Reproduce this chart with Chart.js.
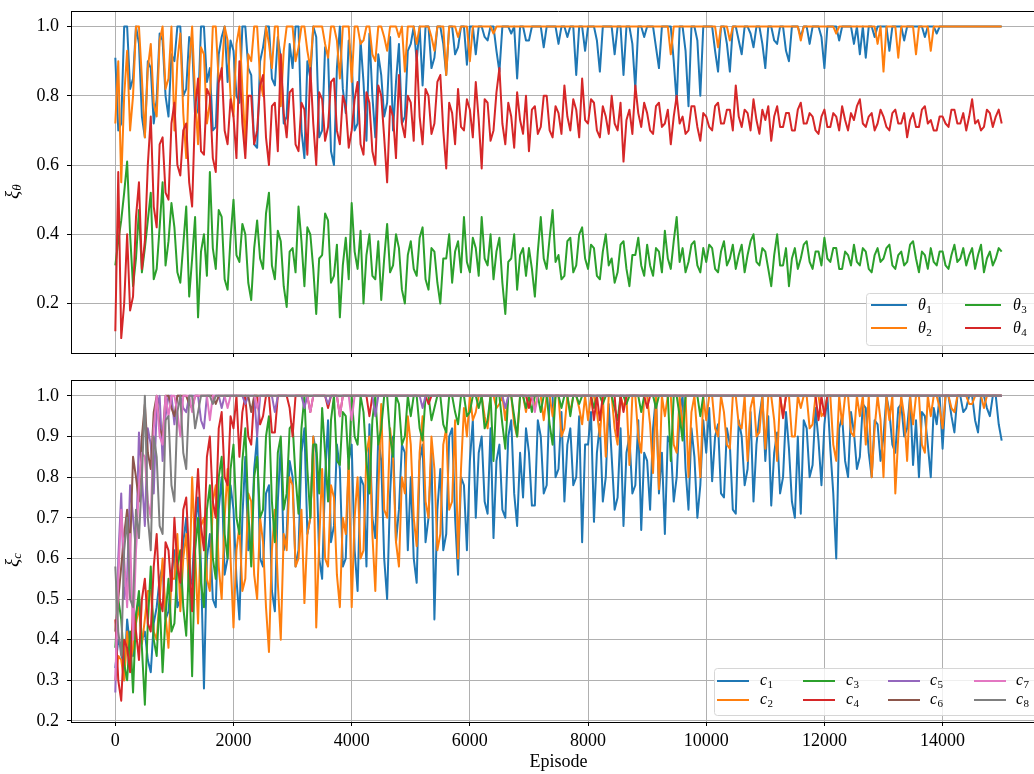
<!DOCTYPE html>
<html><head><meta charset="utf-8">
<script src="https://cdn.jsdelivr.net/npm/chart.js@4.4.1/dist/chart.umd.min.js"></script>
<style>
html,body{margin:0;padding:0;background:#fff;overflow:hidden;width:1034px;height:774px;}
#c1{position:absolute;left:0;top:0;width:1046px;height:370px;}
#c2{position:absolute;left:0;top:370px;width:1046px;height:404px;}
</style></head><body>
<canvas id="c1" width="1046" height="370"></canvas>
<canvas id="c2" width="1046" height="404"></canvas>
<script>
// ---------------- DATA (one sample every 50 episodes, 0..15000; one row = 1000 episodes) ----------------
const EPISODE_STEP = 50;
const X_TICKS = [0, 2000, 4000, 6000, 8000, 10000, 12000, 14000];
const TOP_Y_TICKS = [0.2, 0.4, 0.6, 0.8, 1.0];
const BOTTOM_Y_TICKS = [0.2, 0.3, 0.4, 0.5, 0.6, 0.7, 0.8, 0.9, 1.0];

const theta1 = [
[0.91,0.70,0.72,1,1,0.82,0.85,1,0.95,0.74,0.68,0.90,0.88,0.72,0.79,0.98,0.96,0.80,0.74,0.92],
[0.90,1,1,0.80,0.82,0.97,0.95,0.74,0.76,1,1,0.84,0.88,0.70,0.71,0.92,0.97,1,0.84,0.96],
[0.93,0.80,0.78,1,1,0.88,0.86,0.66,0.65,0.90,0.94,1,1,0.85,0.83,0.97,0.91,0.72,0.74,0.95],
[0.88,1,1,0.70,0.62,0.90,0.85,1,0.97,0.68,0.70,0.94,0.92,0.64,0.60,0.88,1,0.82,0.75,0.96],
[0.90,0.70,0.72,0.96,0.84,0.67,0.98,0.80,0.68,0.92,0.86,0.74,0.78,0.97,0.70,0.84,0.95,0.72,0.74,0.93],
[0.95,1,0.90,1,0.83,1,1,0.88,0.91,1,1,0.95,0.86,1,1,0.92,0.94,1,1,0.89],
[1,1,0.92,1,1,0.97,0.96,1,1,0.93,0.87,1,1,1,0.98,1,0.85,1,1,0.96],
[0.96,1,1,1,1,0.94,1,1,1,1,0.95,1,1,0.97,1,1,0.86,1,1,0.93],
[1,1,1,0.96,0.87,1,1,1,1,0.92,1,1,0.86,1,1,0.95,0.82,1,1,0.97],
[1,1,1,0.94,0.88,1,1,1,1,0.90,0.78,1,1,0.93,0.77,1,1,0.96,0.80,1],
[1,1,1,0.93,0.87,1,1,0.95,0.87,1,1,0.96,0.92,1,1,0.98,0.94,1,1,0.95],
[0.88,1,1,0.96,0.95,1,1,0.93,0.90,1,1,1,0.97,1,1,0.95,1,1,1,0.97],
[0.88,1,1,1,1,0.96,1,1,1,1,0.95,1,0.92,1,0.91,1,1,0.97,1,1],
[1,1,0.93,1,1,1,1,0.96,1,1,1,1,1,1,0.97,1,1,1,0.98,1],
[1,1,1,1,1,1,1,1,1,1,1,1,1,1,1,1,1,1,1,1],
[1]].flat();
const theta2 = [
[0.72,0.90,0.55,0.80,0.93,0.70,0.80,1,1,0.85,0.68,0.88,0.95,0.78,0.74,0.96,1,0.82,0.85,1],
[0.70,0.90,0.98,0.75,0.62,0.88,1,0.80,0.66,0.94,0.92,0.72,0.78,1,1,0.84,0.86,1,0.96,0.80],
[0.74,0.95,1,0.82,0.66,0.92,0.90,1,1,0.85,0.80,1,0.95,0.88,1,1,0.77,0.93,1,1],
[1,0.90,0.94,1,1,0.93,0.88,1,1,1,1,0.95,0.91,1,1,0.96,0.85,1,1,1],
[0.84,1,1,0.95,0.96,1,1,0.92,0.90,1,1,0.97,0.93,1,1,1,0.97,1,0.87,1],
[1,1,0.95,1,1,1,1,0.97,0.93,1,1,1,0.86,1,1,1,0.97,1,1,1],
[0.90,1,1,1,1,1,1,1,0.98,1,1,1,1,1,1,1,1,1,1,1],
[1,1,1,1,1,1,1,1,1,1,1,1,1,1,1,1,1,1,1,1],
[1,1,1,1,1,1,1,1,1,1,1,1,1,1,1,1,1,1,1,1],
[1,1,1,1,1,1,1,1,0.92,1,1,1,1,1,1,1,1,1,1,1],
[1,1,1,1,0.94,1,1,1,0.96,1,1,1,1,1,1,1,1,1,1,1],
[1,1,1,1,1,1,1,1,1,1,1,1,0.96,1,1,1,1,1,1,1],
[1,1,1,1,0.98,1,1,1,1,1,1,1,1,1,1,1,1,1,0.95,1],
[0.87,1,1,1,1,0.91,1,1,1,1,1,0.92,1,1,1,1,0.93,1,1,1],
[1,1,1,1,1,1,1,1,1,1,1,1,1,1,1,1,1,1,1,1],
[1]].flat();
const theta3 = [
[0.31,0.38,0.44,0.52,0.61,0.40,0.25,0.33,0.47,0.29,0.36,0.44,0.52,0.27,0.30,0.42,0.55,0.31,0.38,0.49],
[0.42,0.29,0.26,0.37,0.48,0.22,0.33,0.45,0.16,0.35,0.40,0.28,0.58,0.36,0.30,0.47,0.45,0.27,0.24,0.39],
[0.50,0.34,0.32,0.43,0.40,0.26,0.21,0.36,0.44,0.33,0.30,0.46,0.52,0.31,0.27,0.41,0.38,0.25,0.19,0.35],
[0.36,0.29,0.48,0.38,0.25,0.42,0.40,0.30,0.17,0.33,0.34,0.46,0.44,0.26,0.28,0.37,0.16,0.31,0.39,0.27],
[0.49,0.35,0.30,0.41,0.20,0.34,0.40,0.28,0.27,0.38,0.21,0.33,0.43,0.29,0.31,0.40,0.36,0.24,0.20,0.34],
[0.38,0.30,0.28,0.39,0.42,0.27,0.24,0.36,0.35,0.26,0.20,0.33,0.33,0.40,0.26,0.35,0.38,0.29,0.45,0.32],
[0.29,0.39,0.36,0.28,0.45,0.33,0.31,0.40,0.27,0.35,0.39,0.26,0.17,0.32,0.33,0.40,0.24,0.34,0.36,0.28],
[0.36,0.30,0.22,0.35,0.45,0.33,0.30,0.39,0.47,0.32,0.34,0.27,0.28,0.38,0.39,0.29,0.31,0.40,0.42,0.33],
[0.30,0.37,0.36,0.28,0.27,0.35,0.40,0.31,0.33,0.26,0.29,0.37,0.38,0.30,0.25,0.34,0.34,0.39,0.31,0.28],
[0.37,0.31,0.28,0.36,0.35,0.29,0.41,0.33,0.30,0.38,0.45,0.32,0.36,0.29,0.32,0.37,0.38,0.31,0.29,0.36],
[0.32,0.37,0.36,0.30,0.29,0.35,0.38,0.31,0.33,0.37,0.30,0.34,0.37,0.29,0.34,0.38,0.40,0.32,0.31,0.36],
[0.35,0.30,0.25,0.34,0.40,0.31,0.31,0.36,0.25,0.33,0.36,0.30,0.33,0.37,0.38,0.32,0.30,0.35,0.35,0.31],
[0.39,0.33,0.32,0.36,0.36,0.30,0.30,0.35,0.34,0.31,0.37,0.32,0.31,0.36,0.35,0.30,0.29,0.34,0.36,0.32],
[0.33,0.36,0.37,0.31,0.30,0.34,0.35,0.31,0.32,0.37,0.38,0.33,0.29,0.35,0.34,0.30,0.36,0.32,0.31,0.35],
[0.35,0.31,0.30,0.34,0.37,0.32,0.33,0.36,0.31,0.34,0.36,0.30,0.34,0.37,0.29,0.33,0.35,0.31,0.33,0.36],
[0.35]].flat();
const theta4 = [
[0.12,0.58,0.10,0.20,0.40,0.18,0.22,0.45,0.55,0.30,0.38,0.60,0.74,0.48,0.42,0.66,0.68,0.52,0.50,0.72],
[0.78,0.60,0.57,0.70,0.72,0.55,0.48,0.76,0.85,0.64,0.63,0.82,0.80,0.62,0.58,0.84,0.88,0.70,0.66,0.79],
[0.74,0.62,0.90,0.72,0.62,0.80,0.80,0.66,0.70,0.83,0.86,0.68,0.60,0.77,0.78,0.64,0.92,0.75,0.68,0.81],
[0.82,0.66,0.64,0.78,0.76,0.63,0.88,0.72,0.60,0.81,0.79,0.67,0.71,0.84,0.85,0.70,0.66,0.80,0.77,0.65],
[0.70,0.79,0.84,0.66,0.63,0.81,0.78,0.64,0.60,0.83,0.80,0.68,0.55,0.77,0.74,0.62,0.86,0.72,0.68,0.80],
[0.78,0.67,0.93,0.74,0.66,0.82,0.80,0.69,0.72,0.84,0.86,0.70,0.59,0.78,0.75,0.66,0.82,0.71,0.70,0.79],
[0.76,0.68,0.84,0.73,0.59,0.79,0.78,0.67,0.70,0.81,0.88,0.72,0.66,0.78,0.74,0.65,0.81,0.73,0.69,0.80],
[0.64,0.76,0.77,0.69,0.71,0.80,0.80,0.70,0.68,0.77,0.75,0.69,0.83,0.74,0.70,0.79,0.76,0.68,0.85,0.73],
[0.72,0.79,0.78,0.70,0.68,0.77,0.74,0.69,0.80,0.72,0.70,0.78,0.61,0.73,0.76,0.69,0.83,0.75,0.71,0.78],
[0.75,0.70,0.69,0.77,0.78,0.71,0.72,0.76,0.66,0.74,0.80,0.72,0.74,0.69,0.70,0.77,0.77,0.71,0.67,0.75],
[0.74,0.71,0.70,0.77,0.78,0.72,0.72,0.76,0.76,0.70,0.83,0.74,0.71,0.76,0.75,0.70,0.79,0.73,0.69,0.76],
[0.73,0.77,0.67,0.74,0.77,0.71,0.71,0.75,0.75,0.70,0.70,0.76,0.78,0.72,0.72,0.75,0.74,0.70,0.69,0.74],
[0.76,0.71,0.71,0.75,0.74,0.70,0.77,0.73,0.70,0.75,0.73,0.77,0.79,0.72,0.71,0.74,0.75,0.70,0.72,0.76],
[0.74,0.71,0.70,0.75,0.76,0.72,0.72,0.75,0.68,0.73,0.75,0.71,0.71,0.76,0.77,0.72,0.73,0.70,0.70,0.74],
[0.74,0.72,0.71,0.76,0.76,0.72,0.72,0.75,0.70,0.74,0.79,0.72,0.73,0.70,0.71,0.76,0.75,0.71,0.74,0.76],
[0.72]].flat();

const c1 = [
[0.33,0.40,0.38,0.30,0.45,0.38,0.36,0.46,0.50,0.40,0.42,0.35,0.32,0.44,0.48,0.55,0.58,0.45,0.47,0.56],
[0.62,0.48,0.50,0.64,0.70,0.52,0.55,0.68,0.75,0.58,0.28,0.60,0.66,0.50,0.48,0.72,0.80,0.56,0.60,0.78],
[0.72,0.55,0.45,0.70,0.85,0.62,0.64,0.82,0.90,0.60,0.58,0.76,0.78,0.52,0.47,0.74,0.88,0.62,0.66,0.84],
[0.80,0.58,0.62,0.86,0.92,0.66,0.70,0.90,0.86,0.60,0.55,0.80,0.94,0.64,0.68,0.88,0.82,0.58,0.60,0.84],
[0.88,0.62,0.52,0.80,0.78,0.58,0.93,0.70,0.65,0.90,0.84,0.60,0.50,0.76,0.90,0.64,0.72,0.88,0.86,0.62],
[0.80,0.60,0.54,0.84,0.88,0.64,0.70,0.86,0.45,0.72,0.82,0.62,0.66,0.90,0.92,0.70,0.56,0.80,0.78,0.62],
[0.84,0.94,0.70,0.86,0.90,0.74,0.71,0.92,0.65,0.84,0.88,0.72,0.70,0.90,0.94,0.76,0.68,0.86,0.75,0.92],
[0.86,0.73,0.73,0.94,0.90,0.76,0.78,1,1,0.80,0.82,0.96,0.74,0.88,0.92,0.78,0.80,0.95,0.64,0.88],
[0.88,0.96,0.69,0.86,0.93,0.74,0.80,0.98,0.85,0.72,0.75,0.92,0.68,0.86,0.90,0.76,0.78,0.94,0.67,0.86],
[0.84,0.72,0.92,1,0.76,0.86,0.66,0.90,0.88,0.74,0.80,0.96,1,0.82,0.72,0.92,0.85,0.70,0.78,0.94],
[0.86,0.97,0.79,0.90,0.93,0.76,0.75,0.92,0.88,0.72,0.71,0.94,0.90,0.78,0.82,0.96,0.74,0.88,0.95,1],
[0.84,0.95,0.73,0.86,0.91,0.76,0.80,0.96,0.87,0.74,0.70,0.90,0.71,0.94,0.92,0.80,0.83,0.97,0.89,0.78],
[0.93,1,0.87,0.76,0.60,0.92,0.95,0.84,0.80,0.96,0.91,0.82,0.85,0.98,0.97,0.86,0.80,0.94,0.93,0.84],
[0.90,1,0.96,0.88,0.86,0.97,0.98,0.90,0.92,1,0.83,0.94,0.80,0.96,0.95,0.88,0.80,0.97,0.93,1],
[0.87,1,1,0.95,0.91,1,1,0.96,0.97,1,1,0.94,0.91,1,1,0.97,0.95,1,1,0.93],
[0.89]].flat();
const c2 = [
[0.30,0.36,0.35,0.30,0.42,0.34,0.38,0.44,0.48,0.39,0.45,0.52,0.52,0.42,0.40,0.50,0.60,0.46,0.38,0.55],
[0.55,0.66,0.47,0.60,0.66,0.52,0.80,0.62,0.44,0.68,0.70,0.55,0.52,0.74,0.78,0.58,0.50,0.70,0.82,0.60],
[0.43,0.62,0.68,0.52,0.55,0.76,0.74,0.56,0.50,0.70,0.64,0.48,0.37,0.62,0.72,0.54,0.40,0.66,0.62,0.80],
[0.78,0.58,0.60,0.72,0.49,0.66,0.70,0.90,0.43,0.64,0.82,0.60,0.58,0.78,0.75,0.56,0.48,0.70,0.66,0.84],
[0.48,0.70,0.80,0.60,0.62,0.86,0.90,0.66,0.52,0.76,0.98,0.72,0.70,0.92,0.85,0.64,0.58,0.80,0.76,0.95],
[0.88,0.70,0.63,0.86,0.95,0.74,0.70,0.90,0.82,0.62,0.66,0.88,0.92,0.72,0.74,0.94,0.60,0.82,0.97,0.90],
[1,0.94,0.96,1,1,0.95,0.92,1,1,0.97,0.98,1,0.94,1,1,0.93,0.90,1,1,0.96],
[1,1,0.97,1,1,0.94,1,1,0.95,1,1,0.90,0.92,1,0.96,1,1,0.97,0.93,1],
[0.94,1,1,0.96,0.90,1,0.85,1,1,0.92,0.88,1,0.97,1,0.83,1,1,0.90,0.86,1],
[1,0.93,0.81,1,0.77,1,0.95,1,1,0.88,0.86,1,0.92,1,0.80,0.96,1,0.90,0.80,1],
[0.94,1,1,0.92,0.90,1,0.96,0.88,0.87,1,1,0.93,0.92,1,0.84,0.97,1,0.90,0.91,1],
[0.87,1,1,0.94,0.84,1,0.95,1,1,0.90,0.90,1,0.97,1,1,0.92,0.93,1,1,0.95],
[0.96,1,1,0.88,0.84,1,0.93,1,1,0.91,0.90,1,0.95,1,0.88,1,0.80,0.92,1,0.94],
[0.80,1,0.94,1,0.76,0.90,1,0.95,0.84,1,0.93,1,1,0.88,0.86,1,0.95,1,1,0.97],
[0.92,1,1,0.97,0.96,1,1,1,1,0.98,0.98,1,1,1,0.97,1,1,1,1,1],
[1]].flat();
const c3 = [
[0.38,0.50,0.45,0.34,0.30,0.42,0.27,0.46,0.52,0.38,0.24,0.44,0.58,0.40,0.36,0.50,0.32,0.46,0.55,0.42],
[0.44,0.58,0.62,0.48,0.41,0.60,0.31,0.62,0.70,0.54,0.48,0.72,0.78,0.60,0.55,0.80,0.85,0.66,0.60,0.82],
[0.88,0.70,0.66,0.84,0.92,0.72,0.58,0.80,0.85,0.70,0.72,0.90,0.95,0.74,0.64,0.86,0.90,0.72,0.76,0.92],
[0.93,0.80,0.71,0.92,1,0.82,0.70,0.88,0.88,0.76,0.97,0.86,0.74,0.94,1,0.84,0.83,0.96,0.95,0.82],
[1,0.90,0.88,1,0.96,0.84,0.76,0.94,1,0.88,0.92,1,1,0.90,0.85,1,0.98,0.88,0.90,1],
[0.95,1,1,0.92,0.89,1,1,0.94,0.97,1,1,0.93,0.91,1,1,0.96,0.93,1,1,0.95],
[0.96,1,1,0.97,1,0.92,0.94,1,0.84,1,1,0.93,0.87,1,1,0.95,0.90,1,1,0.97],
[1,0.96,1,1,0.96,1,1,0.93,0.88,1,1,0.97,1,1,0.95,1,1,0.98,1,1],
[1,1,0.97,1,1,0.98,1,1,1,0.97,0.94,1,1,0.98,1,1,1,1,0.96,1],
[1,1,1,0.97,1,1,1,1,0.84,1,1,0.95,0.89,1,1,1,1,1,0.95,1],
[1,1,1,1,1,1,1,1,1,1,1,1,1,1,1,1,1,1,1,1],
[1,1,1,1,1,1,1,1,1,1,1,1,1,1,1,1,1,1,1,1],
[1,1,1,1,1,1,1,1,1,1,1,1,1,1,1,1,1,1,1,1],
[1,1,1,1,1,1,1,1,1,1,1,1,1,1,1,1,1,1,1,1],
[1,1,1,1,1,1,1,1,1,1,1,1,1,1,1,1,1,1,1,1],
[1]].flat();
const c4 = [
[0.45,0.30,0.25,0.40,0.38,0.32,0.48,0.42,0.35,0.50,0.55,0.44,0.42,0.58,0.66,0.50,0.47,0.64,0.62,0.52],
[0.70,0.58,0.54,0.72,0.75,0.60,0.47,0.70,0.82,0.68,0.62,0.85,0.90,0.74,0.70,0.92,0.96,0.80,0.78,0.95],
[0.92,1,0.85,0.96,1,0.90,0.88,1,1,0.93,0.95,1,1,0.91,0.91,1,1,1,1,0.97],
[0.90,1,1,1,1,1,0.96,1,1,1,1,1,0.97,1,1,1,0.95,1,1,1],
[1,1,1,1,1,1,0.95,1,1,1,1,1,1,1,1,1,1,1,1,1],
[1,1,1,1,1,1,0.98,1,1,1,1,1,1,1,1,1,1,1,1,1],
[1,1,1,1,1,1,1,1,1,1,1,1,1,1,1,1,1,1,1,1],
[0.97,1,1,1,1,1,1,1,1,1,1,1,1,1,1,1,1,1,1,1],
[1,1,0.94,1,0.94,1,1,1,1,1,0.90,1,0.96,1,1,1,1,1,1,1],
[0.97,1,1,1,1,1,1,1,1,1,1,1,1,1,1,1,1,1,1,1],
[1,1,1,1,1,1,1,1,1,1,1,1,1,1,1,1,1,1,1,1],
[1,1,1,1,1,1,0.945,1,1,1,1,1,1,1,1,1,1,1,0.94,1],
[0.95,1,1,1,1,1,1,1,1,1,1,1,1,1,1,1,1,1,1,1],
[1,1,1,1,1,1,1,1,1,1,1,1,1,1,1,1,1,1,1,1],
[1,1,1,1,1,1,1,1,1,1,1,1,1,1,1,1,1,1,1,1],
[1]].flat();
const c5 = [
[0.27,0.60,0.76,0.50,0.55,0.78,0.70,0.62,0.91,0.80,0.68,0.92,0.88,0.76,0.97,1,0.84,0.95,1,1],
[0.93,1,1,0.97,0.96,1,1,1,1,0.94,0.92,1,1,1,1,1,0.97,1,1,1],
[1,1,1,1,0.98,1,1,1,0.90,1,1,1,1,1,0.96,1,1,1,1,1],
[1,1,1,1,0.97,1,1,1,1,1,1,1,0.98,1,1,1,1,1,1,1],
[1,1,1,1,1,1,1,1,0.95,1,1,1,1,1,1,1,1,1,1,1],
[1,1,1,1,0.97,1,1,1,1,1,1,1,1,1,1,1,1,1,1,1],
[1,1,1,1,1,1,1,1,1,1,1,1,0.97,1,1,1,1,1,1,1],
[1,1,1,1,1,1,1,1,1,1,1,1,1,1,1,1,1,1,1,1],
[1,1,1,1,1,1,1,1,1,1,1,1,1,1,1,1,1,1,1,1],
[1,1,1,1,1,1,1,1,1,1,1,1,1,1,1,1,1,1,1,1],
[1,1,1,1,1,1,1,1,1,1,1,1,1,1,1,1,1,1,1,1],
[1,1,1,1,1,1,1,1,1,1,1,1,1,1,1,1,1,1,1,1],
[1,1,1,1,1,1,1,1,1,1,1,1,1,1,1,1,1,1,1,1],
[1,1,1,1,1,1,1,1,1,1,1,1,1,1,1,1,1,1,1,1],
[1,1,1,1,1,1,1,1,1,1,1,1,1,1,1,1,1,1,1,1],
[1]].flat();
const c6 = [
[0.42,0.50,0.58,0.66,0.72,0.62,0.85,0.80,0.74,0.90,0.98,0.86,0.82,0.96,1,0.92,0.90,1,1,0.97],
[0.95,1,1,1,1,0.98,0.97,1,1,1,1,1,1,1,0.98,1,1,1,1,1],
[1,1,1,1,1,1,0.96,1,1,1,1,1,1,1,1,1,1,1,1,1],
[1,1,1,1,1,1,1,1,1,1,1,1,1,1,1,1,1,1,1,1],
[1,1,1,1,1,1,1,1,1,1,1,1,1,1,1,1,1,1,1,1],
[1,1,1,1,1,1,1,1,1,1,1,1,1,1,1,1,1,1,1,1],
[1,1,1,1,1,1,1,1,1,1,1,1,1,1,1,1,1,1,1,1],
[1,1,1,1,1,1,1,1,1,1,1,1,1,1,1,1,1,1,1,1],
[1,1,1,1,1,1,1,1,1,1,1,1,1,1,1,1,1,1,1,1],
[1,1,1,1,1,1,1,1,1,1,1,1,1,1,1,1,1,1,1,1],
[1,1,1,1,1,1,1,1,1,1,1,1,1,1,1,1,1,1,1,1],
[1,1,1,1,1,1,1,1,1,1,1,1,1,1,1,1,1,1,1,1],
[1,1,1,1,1,1,1,1,1,1,1,1,1,1,1,1,1,1,1,1],
[1,1,1,1,1,1,1,1,1,1,1,1,1,1,1,1,1,1,1,1],
[1,1,1,1,1,1,1,1,1,1,1,1,1,1,1,1,1,1,1,1],
[1]].flat();
const c7 = [
[0.30,0.55,0.72,0.60,0.48,0.66,0.40,0.62,0.78,0.86,0.85,0.74,0.70,0.92,1,0.90,0.88,1,0.95,1],
[1,0.96,0.90,1,1,1,0.96,1,1,1,1,1,0.94,1,1,1,1,1,0.97,1],
[1,1,1,1,1,1,1,1,0.97,1,1,1,1,1,1,1,1,1,1,1],
[1,1,1,1,1,1,0.96,1,1,1,1,1,1,1,1,1,0.95,1,1,1],
[0.94,1,1,1,1,1,1,1,1,1,1,1,1,1,1,1,1,1,1,1],
[1,1,1,1,1,1,1,1,1,1,1,1,1,1,1,1,1,1,1,1],
[1,1,1,1,1,1,1,1,1,1,1,1,1,1,1,1,1,1,1,1],
[1,1,0.96,1,1,1,1,1,1,1,1,1,1,1,1,1,1,1,1,1],
[1,1,1,1,1,1,1,1,1,1,1,1,1,1,1,1,1,1,1,1],
[1,1,1,1,1,1,1,1,1,1,1,1,1,1,1,1,1,1,1,1],
[1,1,1,1,1,1,1,1,1,1,1,1,1,1,1,1,1,1,1,1],
[1,1,1,1,1,1,1,1,1,1,1,1,1,1,1,1,1,1,1,1],
[1,1,1,1,1,1,1,1,1,1,1,1,1,1,1,1,1,1,1,1],
[1,1,1,1,1,1,1,1,1,1,1,1,1,1,1,1,1,1,1,1],
[1,1,1,1,1,1,1,1,1,1,1,1,1,1,1,1,1,1,1,1],
[1]].flat();
const c8 = [
[0.58,0.42,0.36,0.62,0.70,0.50,0.48,0.72,0.65,0.80,1,0.70,0.62,0.90,0.85,0.68,0.66,0.94,0.95,0.78],
[0.74,0.96,1,0.86,0.82,1,1,0.92,0.96,1,1,1,1,0.98,1,1,1,1,1,1],
[1,1,1,1,1,1,1,1,1,1,1,1,1,1,1,1,1,1,1,1],
[1,1,1,1,1,1,1,1,1,1,1,1,1,1,1,1,1,1,1,1],
[1,1,1,1,1,1,1,1,1,1,1,1,1,1,1,1,1,1,1,1],
[1,1,1,1,1,1,1,1,1,1,1,1,1,1,1,1,1,1,1,1],
[1,1,1,1,1,1,1,1,1,1,1,1,1,1,1,1,1,1,1,1],
[1,1,1,1,1,1,1,1,1,1,1,1,1,1,1,1,1,1,1,1],
[1,1,1,1,1,1,1,1,1,1,1,1,1,1,1,1,1,1,1,1],
[1,1,1,1,1,1,1,1,1,1,1,1,1,1,1,1,1,1,1,1],
[1,1,1,1,1,1,1,1,1,1,1,1,1,1,1,1,1,1,1,1],
[1,1,1,1,1,1,1,1,1,1,1,1,1,1,1,1,1,1,1,1],
[1,1,1,1,1,1,1,1,1,1,1,1,1,1,1,1,1,1,1,1],
[1,1,1,1,1,1,1,1,1,1,1,1,1,1,1,1,1,1,1,1],
[1,1,1,1,1,1,1,1,1,1,1,1,1,1,1,1,1,1,1,1],
[1]].flat();

const TOP_SERIES = [
  {sym: 'θ', sub: '1', values: theta1, color: '#1f77b4'},
  {sym: 'θ', sub: '2', values: theta2, color: '#ff7f0e'},
  {sym: 'θ', sub: '3', values: theta3, color: '#2ca02c'},
  {sym: 'θ', sub: '4', values: theta4, color: '#d62728'}
];
const BOTTOM_SERIES = [
  {sym: 'c', sub: '1', values: c1, color: '#1f77b4'},
  {sym: 'c', sub: '2', values: c2, color: '#ff7f0e'},
  {sym: 'c', sub: '3', values: c3, color: '#2ca02c'},
  {sym: 'c', sub: '4', values: c4, color: '#d62728'},
  {sym: 'c', sub: '5', values: c5, color: '#9467bd'},
  {sym: 'c', sub: '6', values: c6, color: '#8c564b'},
  {sym: 'c', sub: '7', values: c7, color: '#e377c2'},
  {sym: 'c', sub: '8', values: c8, color: '#7f7f7f'}
];

// ---------------- RENDERING ----------------
const SERIF = "'Liberation Serif', 'Times New Roman', serif";
const TICK_FONT = {family: SERIF, size: 18};

function toDatasets(series) {
  return series.map((s, i) => ({
    label: s.sym + s.sub,
    data: s.values.map((v, k) => ({x: k * EPISODE_STEP, y: v})),
    borderColor: s.color,
    backgroundColor: s.color,
    borderWidth: 2,
    pointRadius: 0,
    fill: false,
    tension: 0,
    borderJoinStyle: 'round',
    borderCapStyle: 'butt',
    order: -i
  }));
}

const framePlugin = {
  id: 'frame',
  afterDatasetsDraw(chart) {
    const {ctx, chartArea: a} = chart;
    ctx.save();
    ctx.strokeStyle = '#000';
    ctx.lineWidth = 1;
    ctx.beginPath();
    ctx.moveTo(a.left, Math.round(a.top) + 0.5);
    ctx.lineTo(a.right, Math.round(a.top) + 0.5);
    ctx.moveTo(Math.round(a.right) - 0.5, a.top);
    ctx.lineTo(Math.round(a.right) - 0.5, a.bottom);
    ctx.stroke();
    ctx.restore();
  }
};

const customPlugin = {
  id: 'custom',
  afterDraw(chart, args, opts) {
    const ctx = chart.ctx;
    ctx.save();
    const yl = opts.ylabel;
    ctx.translate(yl.x, yl.y);
    ctx.rotate(-Math.PI / 2);
    ctx.fillStyle = '#000';
    ctx.textBaseline = 'alphabetic';
    ctx.textAlign = 'left';
    ctx.font = 'italic 19px ' + SERIF;
    ctx.fillText(yl.sym, 0, 0);
    const w = ctx.measureText(yl.sym).width;
    ctx.font = 'italic 13px ' + SERIF;
    ctx.fillText(yl.sub, w, 3);
    ctx.restore();

    const lg = opts.legend;
    ctx.save();
    const b = lg.box;
    ctx.beginPath();
    if (ctx.roundRect) ctx.roundRect(b.x + 0.5, b.y + 0.5, b.w, b.h, 3);
    else ctx.rect(b.x + 0.5, b.y + 0.5, b.w, b.h);
    ctx.fillStyle = 'rgba(255,255,255,0.8)';
    ctx.fill();
    ctx.strokeStyle = '#d6d6d6';
    ctx.lineWidth = 1;
    ctx.stroke();
    opts.series.forEach((s, i) => {
      const col = Math.floor(i / 2), row = i % 2;
      const lx = lg.lineX[col], ly = lg.rowY[row];
      ctx.strokeStyle = s.color;
      ctx.lineWidth = 2;
      ctx.beginPath();
      ctx.moveTo(lx, ly);
      ctx.lineTo(lx + lg.lineLen, ly);
      ctx.stroke();
      ctx.fillStyle = '#000';
      ctx.textBaseline = 'alphabetic';
      ctx.textAlign = 'left';
      ctx.font = 'italic ' + lg.size + 'px ' + SERIF;
      const tx = lg.textX[col];
      ctx.fillText(s.sym, tx, ly + lg.baseOff);
      const sw = ctx.measureText(s.sym).width;
      ctx.font = lg.subSize + 'px ' + SERIF;
      ctx.fillText(s.sub, tx + sw + 0.5, ly + lg.baseOff + lg.subDrop);
    });
    ctx.restore();
  }
};

function makeChart(canvasId, cfg) {
  const grid = {color: '#b0b0b0', lineWidth: 1, tickColor: '#000', tickLength: 4, tickWidth: 1, drawTicks: true};
  return new Chart(document.getElementById(canvasId), {
    type: 'line',
    data: {datasets: toDatasets(cfg.series)},
    plugins: [framePlugin, customPlugin],
    options: {
      responsive: false,
      animation: false,
      devicePixelRatio: 1,
      parsing: false,
      normalized: true,
      events: [],
      layout: {padding: {top: cfg.padTop, left: 0, right: 0, bottom: 0}},
      scales: {
        x: {
          type: 'linear',
          min: -750, max: 15750,
          afterBuildTicks: s => { s.ticks = X_TICKS.map(v => ({value: v})); },
          afterFit: s => { s.height = cfg.xHeight; s.paddingLeft = 0; s.paddingRight = 0; },
          ticks: {display: cfg.xLabels, font: TICK_FONT, color: '#000', padding: 4, maxRotation: 0, autoSkip: false,
                  callback: v => String(v)},
          grid: grid,
          border: {display: true, color: '#000', width: 1},
          title: cfg.xTitle ? {display: true, text: cfg.xTitle, font: {family: SERIF, size: 18}, color: '#000', padding: {top: 0, bottom: 1}} : {display: false}
        },
        y: {
          type: 'linear',
          min: cfg.yMin, max: cfg.yMax,
          afterBuildTicks: s => { s.ticks = cfg.yTicks.map(v => ({value: v})); },
          afterFit: s => { s.width = 71; s.paddingTop = 0; s.paddingBottom = 0; },
          ticks: {font: TICK_FONT, color: '#000', padding: 8, callback: v => Number(v).toFixed(1)},
          grid: grid,
          border: {display: true, color: '#000', width: 1}
        }
      },
      plugins: {
        legend: {display: false},
        tooltip: {enabled: false},
        custom: {series: cfg.series, ylabel: cfg.ylabel, legend: cfg.legend}
      }
    }
  });
}

makeChart('c1', {
  series: TOP_SERIES,
  padTop: 11, xHeight: 17, xLabels: false, xTitle: null,
  yMin: 0.057, yMax: 1.045, yTicks: TOP_Y_TICKS,
  ylabel: {x: 18, y: 199, sym: 'ξ', sub: 'θ'},
  legend: {box: {x: 866, y: 293, w: 176, h: 52}, lineX: [871, 965], textX: [918, 1013], rowY: [305, 328],
           lineLen: 36, size: 16, subSize: 11, baseOff: 5, subDrop: 3}
});
makeChart('c2', {
  series: BOTTOM_SERIES,
  padTop: 10, xHeight: 52, xLabels: true, xTitle: 'Episode',
  yMin: 0.1975, yMax: 1.039, yTicks: BOTTOM_Y_TICKS,
  ylabel: {x: 18, y: 197, sym: 'ξ', sub: 'c'},
  legend: {box: {x: 714, y: 298, w: 330, h: 47}, lineX: [717, 803, 888, 974], textX: [760, 846, 930, 1016], rowY: [311, 330],
           lineLen: 32, size: 16, subSize: 11, baseOff: 4, subDrop: 3}
});
</script>
</body></html>
